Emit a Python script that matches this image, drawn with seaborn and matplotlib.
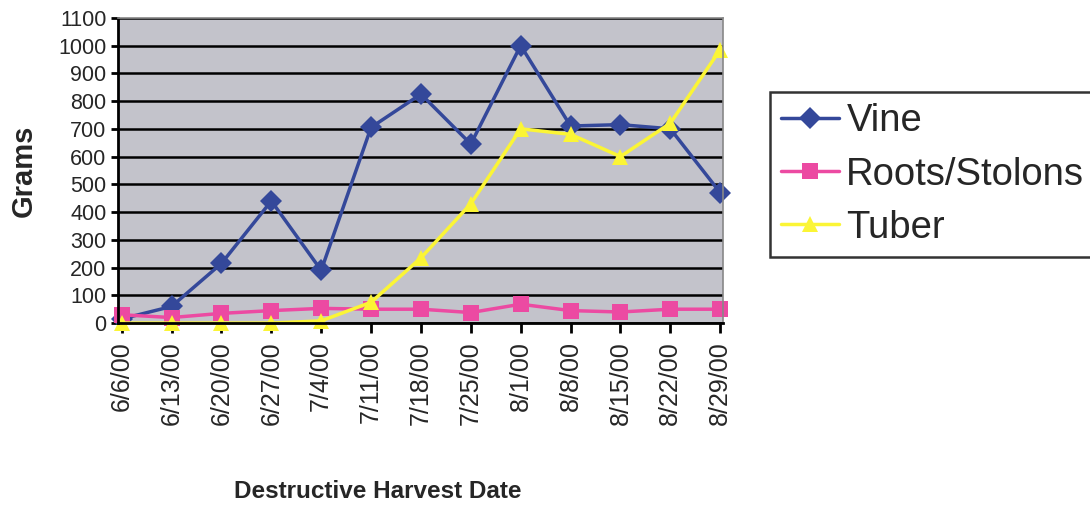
import pandas as pd
import numpy as np
import matplotlib.pyplot as plt
import seaborn as sns

dates = ["6/6/00", "6/13/00", "6/20/00", "6/27/00", "7/4/00", "7/11/00", "7/18/00",
         "7/25/00", "8/1/00", "8/8/00", "8/15/00", "8/22/00", "8/29/00"]
vine = [15, 60, 215, 440, 190, 705, 825, 645, 1000, 710, 715, 700, 470]
roots = [30, 20, 35, 45, 53, 50, 50, 38, 68, 45, 40, 50, 50]
tuber = [0, 0, 0, 0, 8, 75, 235, 430, 700, 680, 600, 720, 985]

series = ["Vine", "Roots/Stolons", "Tuber"]
df = pd.DataFrame({
    "date": dates * 3,
    "grams": vine + roots + tuber,
    "series": [s for s in series for _ in dates],
})

sns.set_style("white")
plt.rcParams["font.family"] = ["Liberation Sans", "DejaVu Sans"]

fig = plt.figure(figsize=(10.9, 5.08), dpi=100)
ax = fig.add_axes([0.108, 0.364, 0.555, 0.601])
ax.set_facecolor("#c3c3cb")

colores = {"Vine": "#34489a", "Roots/Stolons": "#ec4aa2", "Tuber": "#fbf535"}
marcas = {"Vine": "D", "Roots/Stolons": "s", "Tuber": "^"}

sns.lineplot(
    data=df, x="date", y="grams", hue="series", style="series",
    palette=colores, markers=marcas, dashes=False, markersize=11,
    markeredgewidth=0, linewidth=2.5, sort=False, ax=ax, clip_on=False,
)

ax.set_xlim(-0.08, len(dates) - 1 + 0.05)
ax.set_ylim(0, 1100)
ax.set_yticks(np.arange(0, 1101, 100))
ax.yaxis.grid(True, color="black", linewidth=1.8)
ax.set_axisbelow(True)

for lado in ["top", "right"]:
    ax.spines[lado].set_color("#888888")
    ax.spines[lado].set_linewidth(1.2)
for lado in ["left", "bottom"]:
    ax.spines[lado].set_color("black")
    ax.spines[lado].set_linewidth(2)

ax.tick_params(axis="x", direction="out", length=7, width=2, color="black",
               labelsize=18, rotation=90, bottom=True, pad=6)
ax.tick_params(axis="y", direction="out", length=5, width=2, color="black",
               labelsize=15.5, left=True, pad=3)

ax.set_xlabel("Destructive Harvest Date", fontsize=17.5, fontweight="bold")
ax.xaxis.set_label_coords(0.43, -0.515)
ax.set_ylabel("Grams", fontsize=21, fontweight="bold")
ax.yaxis.set_label_coords(-0.132, 0.5)

handles, labels = ax.get_legend_handles_labels()
ax.get_legend().remove()
leg = fig.legend(
    handles, labels, loc="upper left", bbox_to_anchor=(0.7064, 0.819),
    borderaxespad=0, fontsize=27.5, frameon=True, fancybox=False,
    edgecolor="black", handlelength=1.5, handletextpad=0.2, borderpad=0.3,
    labelspacing=0.45,
)
leg.get_frame().set_linewidth(1.8)

plt.savefig("out.png", dpi=100)
plt.close()
